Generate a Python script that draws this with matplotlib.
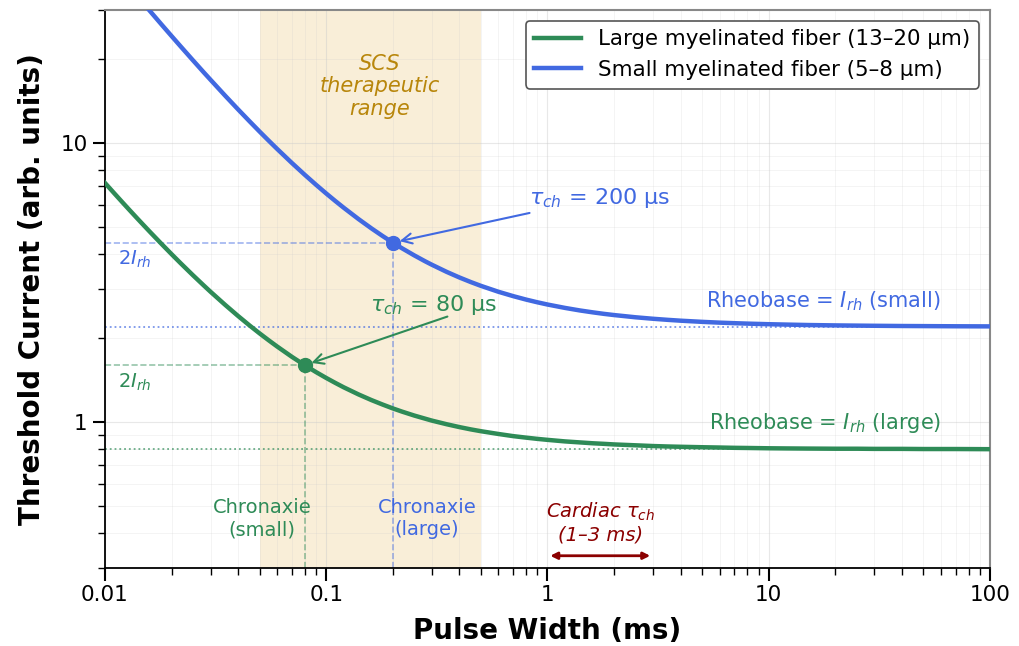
import matplotlib
matplotlib.use("Agg")
import matplotlib.pyplot as plt
from matplotlib.ticker import FuncFormatter, NullFormatter

pulse_width = [0.01, 0.011, 0.012, 0.013, 0.014, 0.015, 0.016, 0.018, 0.02, 0.022,
               0.025, 0.028, 0.03, 0.035, 0.04, 0.045, 0.05, 0.055, 0.06, 0.07,
               0.08, 0.09, 0.1, 0.11, 0.12, 0.14, 0.16, 0.18, 0.2, 0.22,
               0.25, 0.28, 0.3, 0.35, 0.4, 0.45, 0.5, 0.6, 0.7, 0.8,
               0.9, 1, 1.2, 1.4, 1.6, 1.8, 2, 2.5, 3, 3.5,
               4, 5, 6, 7, 8, 10, 12, 15, 20, 25,
               30, 40, 50, 70, 100]

# threshold current, large myelinated fiber
large_fiber = [7.200, 6.618, 6.133, 5.723, 5.371, 5.067, 4.800, 4.356, 4.000, 3.709,
               3.360, 3.086, 2.933, 2.629, 2.400, 2.222, 2.080, 1.964, 1.867, 1.714,
               1.600, 1.511, 1.440, 1.382, 1.333, 1.257, 1.200, 1.156, 1.120, 1.091,
               1.056, 1.029, 1.013, 0.983, 0.960, 0.942, 0.928, 0.907, 0.891, 0.880,
               0.871, 0.864, 0.853, 0.846, 0.840, 0.836, 0.832, 0.826, 0.821, 0.818,
               0.816, 0.813, 0.811, 0.809, 0.808, 0.806, 0.805, 0.804, 0.803, 0.803,
               0.802, 0.802, 0.801, 0.801, 0.800]

# threshold current, small myelinated fiber
small_fiber = [46.2, 42.2, 38.87, 36.05, 33.63, 31.53, 29.7, 26.64, 24.2, 22.2,
               19.8, 17.91, 16.87, 14.77, 13.2, 11.98, 11.0, 10.2, 9.533, 8.486,
               7.7, 7.089, 6.6, 6.2, 5.867, 5.343, 4.95, 4.644, 4.4, 4.2,
               3.96, 3.771, 3.667, 3.457, 3.3, 3.178, 3.08, 2.933, 2.829, 2.75,
               2.689, 2.64, 2.567, 2.514, 2.475, 2.444, 2.42, 2.376, 2.347, 2.326,
               2.31, 2.288, 2.273, 2.263, 2.255, 2.244, 2.237, 2.229, 2.222, 2.218,
               2.215, 2.211, 2.209, 2.206, 2.204]

rheobase_large = 0.8
rheobase_small = 2.2
chronaxie_large = 0.08   # ms
chronaxie_small = 0.2    # ms
scs_range = [0.05, 0.5]
cardiac_range = [1, 3]

GREEN = "#2e8b57"
BLUE = "#4169e1"
GOLD = "#b8860b"
DARKRED = "#8b0000"

fig = plt.figure(figsize=(10.19, 6.46), dpi=100)
ax = fig.add_axes([0.1030, 0.1207, 0.8685, 0.8638])
ax.set_xscale("log")
ax.set_yscale("log")
ax.set_xlim(0.01, 100)
ax.set_ylim(0.3, 30)

# SCS therapeutic window
ax.axvspan(scs_range[0], scs_range[1], color="#f5deb3", alpha=0.5, lw=0, zorder=0)

ax.plot(pulse_width, large_fiber, color=GREEN, lw=3.2,
        label="Large myelinated fiber (13\u201320 \u03bcm)", zorder=4)
ax.plot(pulse_width, small_fiber, color=BLUE, lw=3.2,
        label="Small myelinated fiber (5\u20138 \u03bcm)", zorder=4)

# rheobase lines
ax.axhline(rheobase_large, color=GREEN, ls=":", lw=1.3, alpha=0.7, zorder=2)
ax.axhline(rheobase_small, color=BLUE, ls=":", lw=1.3, alpha=0.7, zorder=2)

# chronaxie guides at 2*Irh
for tch, irh, c in [(chronaxie_large, rheobase_large, GREEN),
                    (chronaxie_small, rheobase_small, BLUE)]:
    ax.plot([0.01, tch], [2 * irh, 2 * irh], ls="--", color=c, lw=1.2, alpha=0.5, zorder=2)
    ax.plot([tch, tch], [0.3, 2 * irh], ls="--", color=c, lw=1.2, alpha=0.5, zorder=2)
    ax.plot(tch, 2 * irh, "o", color=c, ms=10, zorder=5)
    ax.text(0.0115, 2 * irh * 0.87, r"$2I_{rh}$", color=c, fontsize=14,
            ha="left", va="center")

# chronaxie annotations
ax.text(1.72, 6.35, r"$\tau_{ch}$ = 200 " + "\u03bcs", color=BLUE, fontsize=16,
        ha="center", va="center")
ax.annotate("", xy=(chronaxie_small, 2 * rheobase_small), xytext=(0.83, 5.62),
            arrowprops=dict(arrowstyle="->", color=BLUE, lw=1.5, shrinkA=0, shrinkB=5,
                            mutation_scale=18))
ax.text(0.305, 2.62, r"$\tau_{ch}$ = 80 " + "\u03bcs", color=GREEN, fontsize=16,
        ha="center", va="center")
ax.annotate("", xy=(chronaxie_large, 2 * rheobase_large), xytext=(0.353, 2.39),
            arrowprops=dict(arrowstyle="->", color=GREEN, lw=1.5, shrinkA=0, shrinkB=5,
                            mutation_scale=18))

# rheobase labels
ax.text(60, rheobase_small * 1.12, r"Rheobase = $I_{rh}$ (small)", color=BLUE,
        fontsize=15, ha="right", va="bottom")
ax.text(60, rheobase_large * 1.12, r"Rheobase = $I_{rh}$ (large)", color=GREEN,
        fontsize=15, ha="right", va="bottom")

# chronaxie axis labels
ax.text(0.0513, 0.45, "Chronaxie\n(small)", color=GREEN, fontsize=14,
        ha="center", va="center", linespacing=1.2)
ax.text(0.286, 0.45, "Chronaxie\n(large)", color=BLUE, fontsize=14,
        ha="center", va="center", linespacing=1.2)

ax.text(0.175, 16, "SCS\ntherapeutic\nrange", color=GOLD, fontsize=15,
        style="italic", ha="center", va="center", linespacing=1.15)

# cardiac chronaxie
ax.annotate("", xy=(cardiac_range[0], 0.332), xytext=(cardiac_range[1], 0.332),
            arrowprops=dict(arrowstyle="<|-|>", color=DARKRED, lw=2,
                            mutation_scale=10))
ax.text(1.73, 0.436, "Cardiac $\\tau_{ch}$\n(1\u20133 ms)", color=DARKRED, fontsize=14,
        style="italic", ha="center", va="center", linespacing=1.15)

ax.grid(True, which="major", color="#cccccc", lw=0.8, alpha=0.45)
ax.grid(True, which="minor", color="#cccccc", lw=0.6, alpha=0.25)

fmt = FuncFormatter(lambda v, _: f"{v:g}")
ax.xaxis.set_major_formatter(fmt)
ax.yaxis.set_major_formatter(fmt)
ax.xaxis.set_minor_formatter(NullFormatter())
ax.yaxis.set_minor_formatter(NullFormatter())
ax.tick_params(which="major", length=9, width=1.5, labelsize=15.5)
ax.tick_params(which="minor", length=5, width=1.0)

for side in ["top", "right"]:
    ax.spines[side].set_color("#888888")
    ax.spines[side].set_linewidth(1.5)
for side in ["left", "bottom"]:
    ax.spines[side].set_color("black")
    ax.spines[side].set_linewidth(1.3)

ax.set_xlabel("Pulse Width (ms)", fontsize=20, fontweight="bold", labelpad=8)
ax.set_ylabel("Threshold Current (arb. units)", fontsize=20, fontweight="bold", labelpad=10)

leg = ax.legend(loc="upper right", fontsize=15.4, framealpha=1, edgecolor="#555555",
                fancybox=True, handlelength=2.2)
leg.get_frame().set_linewidth(1.2)

fig.savefig("out.png", dpi=100)
